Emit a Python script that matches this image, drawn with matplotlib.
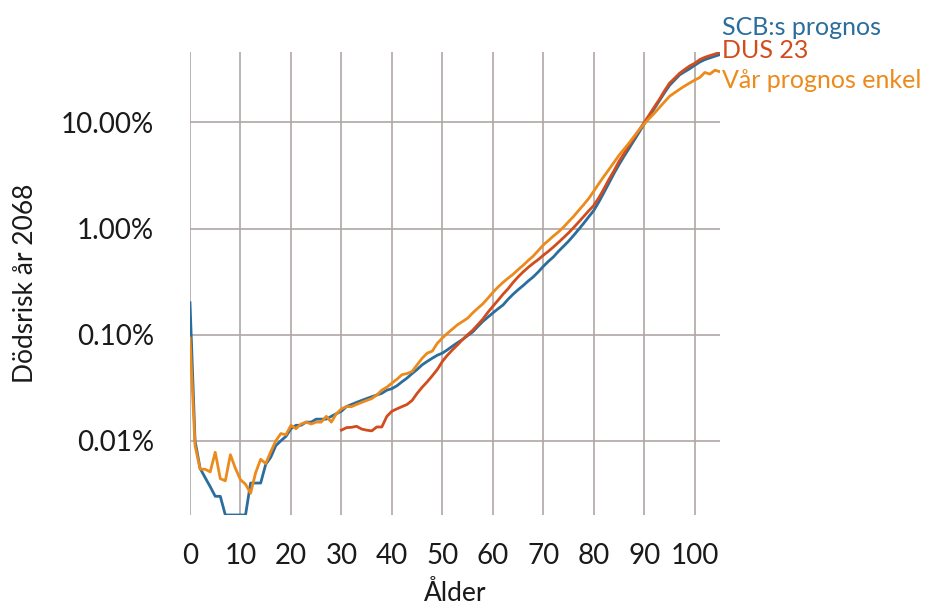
import numpy as np
import matplotlib
matplotlib.use("Agg")
import matplotlib.pyplot as plt
from matplotlib.ticker import FixedLocator, FixedFormatter, NullLocator

plt.rcParams["font.family"] = ["Lato", "DejaVu Sans"]

# Ages 0..105
ages = list(range(0, 106))

# SCB:s prognos – death risk per age
scb = [
    0.0020, 0.00010, 0.000055, 0.000045, 0.000037, 0.00003, 0.00003, 0.00002, 0.00002, 0.00002,
    0.00002, 0.00002, 0.00004, 0.00004, 0.00004, 0.00006, 0.00007, 0.00009, 0.00010, 0.00011,
    0.00013, 0.00014, 0.00014, 0.00015, 0.00015, 0.00016, 0.00016, 0.00016, 0.00017, 0.00018,
    0.00019, 0.00021, 0.00022, 0.00023, 0.00024, 0.00025, 0.00026, 0.00027, 0.00028, 0.00030,
    0.00031, 0.00033, 0.00036, 0.00039, 0.00043, 0.00047, 0.00052, 0.00056, 0.00060, 0.00064,
    0.00067, 0.00072, 0.00078, 0.00084, 0.00090, 0.00098, 0.00106, 0.00119, 0.00133, 0.00146,
    0.0016, 0.00175, 0.0019, 0.00215, 0.0024, 0.00265, 0.0029, 0.0032, 0.0035, 0.0039,
    0.0044, 0.0049, 0.0054, 0.0061, 0.0068, 0.0076, 0.0086, 0.0098, 0.0112, 0.0129,
    0.0148, 0.0178, 0.0218, 0.0268, 0.033, 0.040, 0.048, 0.057, 0.068, 0.081,
    0.097, 0.115, 0.135, 0.160, 0.190, 0.223, 0.250, 0.280, 0.300, 0.320,
    0.345, 0.370, 0.390, 0.405, 0.420, 0.435,
]

# DUS 23 – available from age 30
dus = [np.nan] * 30 + [
    0.000126, 0.000133, 0.000134, 0.000137, 0.000129, 0.000126, 0.000124, 0.000135, 0.000135, 0.00017,
    0.00019, 0.00020, 0.00021, 0.00022, 0.00024, 0.00028, 0.00032, 0.00036, 0.00041, 0.00047,
    0.00056, 0.00064, 0.00072, 0.00080, 0.00090, 0.00100, 0.00110, 0.00124, 0.00140, 0.00162,
    0.00185, 0.0021, 0.0024, 0.0027, 0.0031, 0.0035, 0.0039, 0.0043, 0.0047, 0.0051,
    0.0056, 0.0061, 0.0067, 0.0074, 0.0082, 0.0091, 0.0102, 0.0115, 0.0130, 0.0147,
    0.0165, 0.0195, 0.0236, 0.029, 0.035, 0.043, 0.051, 0.061, 0.072, 0.085,
    0.100, 0.118, 0.140, 0.165, 0.198, 0.234, 0.260, 0.290, 0.315, 0.340,
    0.360, 0.390, 0.410, 0.425, 0.440, 0.458,
]

# Vår prognos enkel
var = [
    0.00093, 0.00009, 0.000054, 0.000054, 0.000051, 0.000078, 0.000044, 0.000042, 0.000074, 0.000055,
    0.000043, 0.000039, 0.000032, 0.000050, 0.000067, 0.000061, 0.000079, 0.00010, 0.000117, 0.000114,
    0.00014, 0.00013, 0.000144, 0.00015, 0.000144, 0.00015, 0.00015, 0.00017, 0.00015, 0.00018,
    0.00020, 0.00021, 0.00021, 0.00022, 0.00023, 0.00024, 0.00025, 0.00027, 0.00030, 0.00032,
    0.00035, 0.00038, 0.00042, 0.00043, 0.00045, 0.00052, 0.00060, 0.00067, 0.00070, 0.00083,
    0.00093, 0.00103, 0.00113, 0.00124, 0.00133, 0.00143, 0.00160, 0.00177, 0.00195, 0.0022,
    0.0025, 0.0028, 0.0031, 0.0034, 0.0037, 0.0041, 0.0045, 0.0050, 0.0055, 0.0062,
    0.0070, 0.0077, 0.0085, 0.0093, 0.0103, 0.0116, 0.0130, 0.0148, 0.0168, 0.0192,
    0.0225, 0.0265, 0.031, 0.036, 0.042, 0.049, 0.056, 0.064, 0.074, 0.085,
    0.097, 0.109, 0.122, 0.138, 0.156, 0.176, 0.190, 0.205, 0.220, 0.235,
    0.250, 0.265, 0.295, 0.285, 0.310, 0.300,
]

series_names = ["SCB:s prognos", "DUS 23", "Vår prognos enkel"]
colors = ["#2b6d9c", "#d24c1d", "#ec8a1b"]

x_ticks = [0, 10, 20, 30, 40, 50, 60, 70, 80, 90, 100]
y_ticks = [0.0001, 0.001, 0.01, 0.1]
y_tick_labels = ["0.01%", "0.10%", "1.00%", "10.00%"]

W, H = 928, 602
fig = plt.figure(figsize=(W / 100, H / 100), dpi=100)
left, right, top, bottom = 190, 720, 52, 515
ax = fig.add_axes([left / W, 1 - bottom / H, (right - left) / W, (bottom - top) / H])

ax.set_yscale("log")
ax.set_xlim(0, 105)
ax.set_ylim(2e-5, 0.46)

grid_color = "#b0a6a6"
ax.xaxis.set_major_locator(FixedLocator(x_ticks))
ax.yaxis.set_major_locator(FixedLocator(y_ticks))
ax.yaxis.set_major_formatter(FixedFormatter(y_tick_labels))
ax.yaxis.set_minor_locator(NullLocator())
ax.grid(True, which="major", color=grid_color, linewidth=1.2)
ax.set_axisbelow(True)
for s in ax.spines.values():
    s.set_visible(False)
ax.tick_params(axis="both", length=0, labelsize=20, colors="#1a1a1a")
ax.tick_params(axis="y", pad=26)
ax.tick_params(axis="x", pad=20)

for vals, c in zip([scb, dus, var], colors):
    ax.plot(ages, vals, color=c, linewidth=2.0, solid_joinstyle="round")

# Series names at the right end of the lines
label_baselines = [35, 58, 88]
for name, c, yb in zip(series_names, colors, label_baselines):
    fig.text(722 / W, 1 - yb / H, name, color=c, fontsize=18,
             ha="left", va="baseline")

fig.text(26 / W, 1 - 283 / H, "Dödsrisk år 2068", rotation=90,
         ha="center", va="center", fontsize=19, color="#1a1a1a")
fig.text(455 / W, 1 - 601 / H, "Ålder", ha="center", va="baseline",
         fontsize=19, color="#1a1a1a")

fig.savefig("out.png", dpi=100)
